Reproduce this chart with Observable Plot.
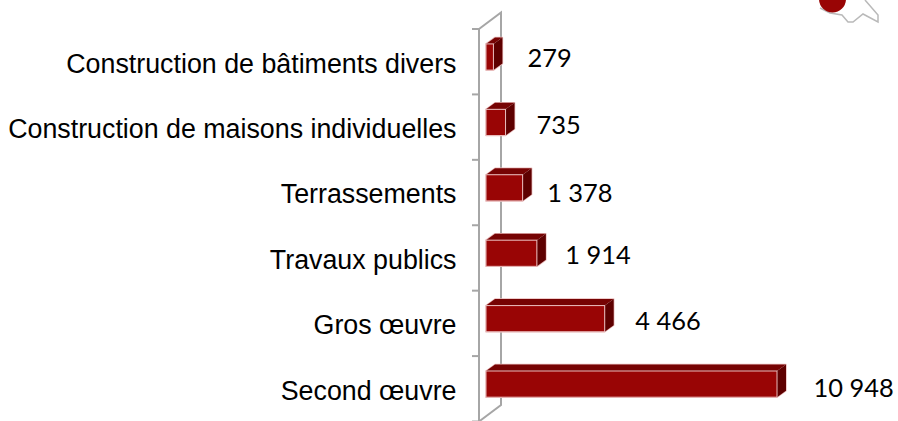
<!DOCTYPE html>
<html><head><meta charset="utf-8">
<script src="https://cdn.jsdelivr.net/npm/d3@7"></script>
<script src="https://cdn.jsdelivr.net/npm/@observablehq/plot@0.6"></script>
<style>html,body{margin:0;padding:0;background:#fff}svg{display:block}</style>
</head><body><div id="chart"></div>
<script>
const categories = ["Construction de bâtiments divers","Construction de maisons individuelles","Terrassements","Travaux publics","Gros œuvre","Second œuvre"];
const values = [279,735,1378,1914,4466,10948];
const table = categories.map((c,i)=>({c,v:values[i],label:d3.format(",")(values[i]).replace(/,/g," ")}));

const labelDx = [33.6,30.5,24,28,30,36];
const labelDy = [1.5,3,6,2,2.5,4];
const depthX = 9, depthY = 6.5, wallX = 22, wallY = 16.5, wallGap = 7, tickLen = 7, catDy = 6.5;
const yAlign = 0.38, yPadIn = 0.6, yPadOut = 0.3;
const ns = "http://www.w3.org/2000/svg";
function el(doc, name, attrs, parent){
  const e = doc.createElementNS(ns, name);
  for (const k in attrs) e.setAttribute(k, attrs[k]);
  parent.appendChild(e); return e;
}
function walls(I, {x, y}, _v, dim, {document}){
  const g = document.createElementNS(ns,"g");
  const step = y(categories[1]) - y(categories[0]);
  const top = y(categories[0]) - step*0.6*yAlign;
  const x0 = x(0)-wallGap, n = categories.length, bottom = top + step*n;
  const st = {stroke:"#a6a6a6","stroke-width":2,fill:"none"};
  el(document,"path",{d:`M${x0},${top}V${bottom}L${x0+wallX},${bottom-wallY}V${top-wallY}L${x0},${top}`,...st},g);
  for (let i=0;i<=n;i++) el(document,"path",{d:`M${x0-tickLen},${top+i*step}H${x0}`,...st},g);
  return g;
}
function faces(I, {x, y}, _v, dim, {document}){
  const g = document.createElementNS(ns,"g");
  const bw = (y(categories[1]) - y(categories[0]))*(1-yPadIn);
  for (const d of table){
    const l=x(0), r=x(d.v), t=y(d.c), b=t+bw;
    el(document,"path",{d:`M${l},${t}L${l+depthX},${t-depthY}H${r+depthX}V${b-depthY}L${r},${b}H${l}Z`,fill:"none",stroke:"#e9bcbc","stroke-width":1.5,"stroke-linejoin":"round"},g);
    el(document,"path",{d:`M${l},${t}L${l+depthX},${t-depthY}H${r+depthX}L${r},${t}Z`,fill:"#760303"},g);
    el(document,"path",{d:`M${r},${t}L${r+depthX},${t-depthY}V${b-depthY}L${r},${b}Z`,fill:"#5e0000"},g);
  }
  return g;
}
const logoOutline = [[820,8],[830,13],[842,15],[848,22],[853,22],[863,14],[878,22],[878,15],[865,0]];
function logo(I,s,_v,dim,{document}){
  const g = document.createElementNS(ns,"g");
  el(document,"path",{d:"M"+logoOutline.join("L"),fill:"none",stroke:"#b9b9b9","stroke-width":1.5},g);
  el(document,"circle",{cx:832.5,cy:-1,r:13.5,fill:"#990505"},g);
  return g;
}

const plot = Plot.plot({
  width:898, height:421,
  marginLeft:486, marginRight:121, marginTop:0, marginBottom:0,
  style:{fontFamily:"'Liberation Sans',Arial,sans-serif",background:"#fff",color:"#000",overflow:"hidden"},
  x:{domain:[0,10948],axis:null},
  y:{domain:categories,range:[29,421.5],paddingInner:yPadIn,paddingOuter:yPadOut,align:yAlign,round:false,axis:null},
  marks:[
    walls,
    faces,
    Plot.barX(table,{x:"v",y:"c",fill:"#990505",stroke:"#e9bcbc",strokeWidth:1}),
    Plot.axisY({tickSize:0,tickPadding:30,fontSize:26.8,dy:catDy,label:null}),
    ...table.map((d,i)=>Plot.text([d],{x:"v",y:"c",text:"label",textAnchor:"start",dx:labelDx[i],dy:labelDy[i],fontSize:25.4,fontFamily:"Lato",fill:"#000"})),
    logo
  ]
});
document.getElementById("chart").append(plot);
</script></body></html>
